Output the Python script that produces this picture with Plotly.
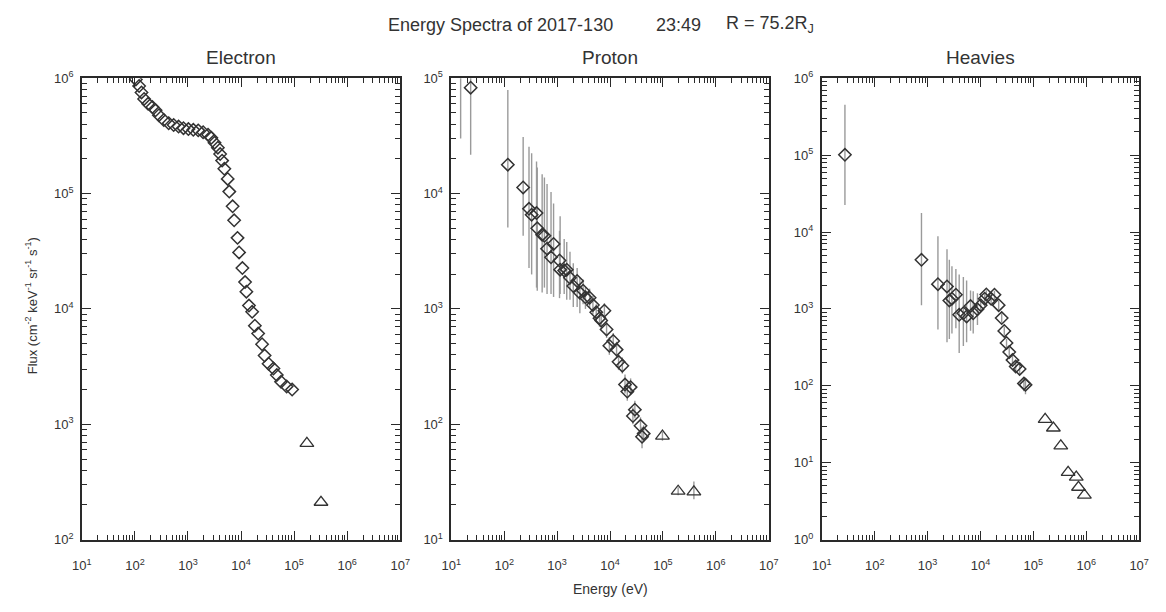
import plotly.graph_objects as go

# ---------------- data ----------------
# Electron (diamonds)
e_energy = [104, 120, 133, 149, 177, 213, 245, 283, 350, 433, 537, 664, 822, 1017, 1259,
            1559, 1929, 2387, 2748, 3162, 3656, 4036, 4395, 4843, 5600, 5998, 6934, 7413,
            8570, 9183, 10600, 11900, 12600, 14100, 16200, 18200, 21000, 24900, 27800,
            33000, 40800, 47200, 56700, 72300, 91800]
e_flux = [9.75e5, 8.56e5, 7.53e5, 6.61e5, 6.0e5, 5.62e5, 5.27e5, 4.78e5, 4.34e5, 4.07e5,
          3.93e5, 3.81e5, 3.69e5, 3.62e5, 3.57e5, 3.53e5, 3.40e5, 3.24e5, 3.04e5, 2.76e5,
          2.50e5, 2.20e5, 1.93e5, 1.64e5, 1.34e5, 1.04e5, 7.75e4, 5.86e4, 4.13e4, 3.09e4,
          2.26e4, 1.71e4, 1.41e4, 1.07e4, 9.44e3, 7.15e3, 6.12e3, 4.94e3, 3.94e3, 3.35e3,
          3.04e3, 2.67e3, 2.34e3, 2.13e3, 2.0e3]
# Electron (triangles)
e_tri_energy = [1.74e5, 3.21e5]
e_tri_flux = [684, 211]

# Proton (diamonds)
p_energy = [15, 23.2, 117, 228, 294, 330, 408, 421, 521, 575, 645, 767, 857, 1110, 1140,
            1360, 1520, 1750, 2020, 2390, 2690, 3100, 3430, 4120, 4750, 5490, 6330, 6810,
            7830, 8610, 9710, 11500, 13300, 14500, 17100, 19200, 21200, 24500, 27100,
            29500, 37700, 40300, 43300]
p_flux = [1.4e5, 8.28e4, 1.78e4, 1.13e4, 7.37e3, 6.56e3, 6.78e3, 5.0e3, 4.4e3, 4.31e3,
          3.33e3, 2.8e3, 3.66e3, 2.63e3, 2.19e3, 2.15e3, 2.19e3, 1.86e3, 1.58e3, 1.75e3,
          1.38e3, 1.44e3, 1.26e3, 1.25e3, 1.08e3, 935, 832, 794, 964, 664, 480, 528, 444,
          348, 322, 221, 192, 210, 118, 134, 97, 78, 83]
p_hi = [6.0e5, 3.16e5, 7.9e4, 3.09e4, 2.54e4, 2.24e4, 1.9e4, 1.68e4, 1.47e4, 1.38e4,
        1.21e4, 1.03e4, 8.2e3, 4.75e3, 6.35e3, 4.04e3, 3.8e3, 3.13e3, 2.49e3, 2.26e3,
        1.86e3, 1.8e3, 1.55e3, 1.5e3, 1.3e3, 1.1e3, 1.0e3, 950, 1.12e3, 790, 570, 620,
        520, 410, 380, 270, 235, 250, 140, 160, 115, 95, 98]
p_lo = [3.0e4, 2.17e4, 5.08e3, 4.31e3, 2.26e3, 1.99e3, 1.53e3, 1.44e3, 1.39e3, 1.53e3,
        1.35e3, 1.35e3, 1.27e3, 1.24e3, 1.35e3, 1.35e3, 1.2e3, 1.2e3, 1.04e3, 1.04e3,
        916, 1.1e3, 1.0e3, 1.02e3, 900, 780, 700, 670, 820, 560, 400, 450, 375, 295,
        275, 185, 160, 180, 100, 113, 82, 62, 70]
# Proton (triangles)
p_tri_energy = [9.8e4, 1.94e5, 3.85e5]
p_tri_flux = [79, 26.3, 26.0]
p_tri_hi = [86, 28.5, 32]
p_tri_lo = [72, 24.3, 22.4]

# Heavies (diamonds)
h_energy = [27.4, 767, 1570, 2330, 2580, 2890, 3430, 3960, 4750, 5470, 6490, 7290, 8770,
            10100, 12000, 12900, 15900, 18400, 22100, 25200, 28200, 31100, 35000, 40300,
            46400, 55000, 66300, 71000]
h_flux = [1.01e5, 4.35e3, 2.10e3, 1.96e3, 1.29e3, 1.36e3, 1.53e3, 838, 879, 798, 1.09e3,
          879, 988, 1.12e3, 1.36e3, 1.54e3, 1.36e3, 1.53e3, 1.12e3, 760, 517, 361, 275,
          216, 178, 166, 107, 103]
h_hi = [4.53e5, 1.77e4, 8.8e3, 5.98e3, 4.35e3, 3.58e3, 3.3e3, 2.81e3, 2.6e3, 2.35e3,
        1.73e3, 1.7e3, 1.6e3, 1.35e3, 1.6e3, 1.75e3, 1.55e3, 1.72e3, 1.28e3, 870, 590,
        410, 315, 245, 205, 190, 125, 120]
h_lo = [2.25e4, 1.12e3, 542, 368, 405, 480, 560, 267, 330, 370, 520, 480, 620, 900,
        1.15e3, 1.33e3, 1.18e3, 1.33e3, 960, 660, 450, 315, 240, 188, 155, 143, 85, 78]
# Heavies (triangles)
h_tri_energy = [1.67e5, 2.39e5, 3.3e5, 4.54e5, 6.47e5, 7.13e5, 9.22e5]
h_tri_flux = [36.7, 28.3, 16.6, 7.5, 6.5, 4.8, 3.8]

x_tickvals = [1e1, 1e2, 1e3, 1e4, 1e5, 1e6, 1e7]
x_ticktext = ["10<sup>1</sup>", "10<sup>2</sup>", "10<sup>3</sup>", "10<sup>4</sup>",
              "10<sup>5</sup>", "10<sup>6</sup>", "10<sup>7</sup>"]
panel_titles = ["Electron", "Proton", "Heavies"]
y_exp_ranges = [(2, 6), (1, 5), (0, 6)]
title_parts = ["Energy Spectra of 2017-130", "23:49", "R = 75.2R<sub>J</sub>"]

# ---------------- styling ----------------
FONT = "Liberation Sans, Arial, Helvetica, sans-serif"
TXT = "#333333"
AX = "#2a2a2a"
MK = "#333333"
EB = "#9a9a9a"

# the page body keeps its default 8px margin; lay out in page pixels minus 8
OFF = 8
W, H = 1166 - 2 * OFF, 612 - 2 * OFF


def fx(px):
    return (px - OFF) / W


def fy(py):
    return 1 - (py - OFF) / H


fig = go.Figure()


def errs(vals, hi, lo):
    return dict(type="data", symmetric=False,
                array=[h - v for h, v in zip(hi, vals)],
                arrayminus=[v - l for v, l in zip(vals, lo)],
                color=EB, thickness=1.4, width=0)


def diamonds(x, y, xa, ya, err=None):
    return go.Scatter(x=x, y=y, xaxis=xa, yaxis=ya, mode="markers",
                      marker=dict(symbol="diamond-open", size=9.5, color=MK,
                                  line=dict(width=1.5, color=MK)),
                      error_y=err, showlegend=False, hoverinfo="x+y")


def triangles(x, y, xa, ya, err=None):
    return go.Scatter(x=x, y=y, xaxis=xa, yaxis=ya, mode="markers",
                      marker=dict(symbol="triangle-up-open", size=12, color=MK,
                                  line=dict(width=1.3, color=MK)),
                      error_y=err, showlegend=False, hoverinfo="x+y")


fig.add_trace(diamonds(p_energy, p_flux, "x2", "y2", errs(p_flux, p_hi, p_lo)))
fig.add_trace(triangles(p_tri_energy, p_tri_flux, "x2", "y2",
                        errs(p_tri_flux, p_tri_hi, p_tri_lo)))
fig.add_trace(diamonds(h_energy, h_flux, "x3", "y3", errs(h_flux, h_hi, h_lo)))
fig.add_trace(triangles(h_tri_energy, h_tri_flux, "x3", "y3"))
fig.add_trace(diamonds(e_energy, e_flux, "x", "y"))
fig.add_trace(triangles(e_tri_energy, e_tri_flux, "x", "y"))

# panel frames in page pixels
x_dom_px = [(73, 397), (449, 772), (826, 1149)]
y_top_px, y_bot_px = 71, 546
y_dom = [fy(y_bot_px), fy(y_top_px)]


def minor_vals(lo, hi):
    return [m * 10 ** k for k in range(lo, hi) for m in range(2, 10)]


layout = dict(width=W, height=H, margin=dict(l=0, r=0, t=0, b=0),
              paper_bgcolor="white", plot_bgcolor="white",
              font=dict(family=FONT, color=TXT, size=12), annotations=[])

for i, ((x0, x1), (ylo, yhi)) in enumerate(zip(x_dom_px, y_exp_ranges)):
    sx = "" if i == 0 else str(i + 1)
    layout["xaxis" + sx] = dict(
        type="log", range=[1, 7], domain=[fx(x0), fx(x1)], anchor="y" + sx,
        tickmode="array", tickvals=x_tickvals, ticktext=x_ticktext,
        ticks="inside", ticklen=9, tickwidth=1.3, tickcolor=AX,
        minor=dict(tickmode="array", tickvals=minor_vals(1, 7), ticks="inside",
                   ticklen=5, tickwidth=1.1, tickcolor=AX, showgrid=False),
        showline=True, linecolor=AX, linewidth=1.6, mirror="allticks",
        showgrid=False, zeroline=False, fixedrange=True,
        tickfont=dict(size=13, color=TXT, family=FONT), ticklabelstandoff=13)
    yt = [10 ** k for k in range(ylo, yhi + 1)]
    layout["yaxis" + sx] = dict(
        type="log", range=[ylo, yhi], domain=y_dom, anchor="x" + sx,
        tickmode="array", tickvals=yt,
        ticktext=["10<sup>%d</sup>" % k for k in range(ylo, yhi + 1)],
        ticks="inside", ticklen=9, tickwidth=1.3, tickcolor=AX,
        minor=dict(tickmode="array", tickvals=minor_vals(ylo, yhi), ticks="inside",
                   ticklen=5, tickwidth=1.1, tickcolor=AX, showgrid=False),
        showline=True, linecolor=AX, linewidth=1.6, mirror="allticks",
        showgrid=False, zeroline=False, fixedrange=True,
        tickfont=dict(size=13, color=TXT, family=FONT), ticklabelstandoff=4)
    layout["annotations"].append(dict(
        text=panel_titles[i], x=fx((x0 + x1) / 2), y=fy(50), xref="paper",
        yref="paper", showarrow=False, xanchor="center", yanchor="middle",
        font=dict(size=19, color=TXT, family=FONT)))

for txt, left in zip(title_parts, [383, 655, 726]):
    layout["annotations"].append(dict(
        text=txt, x=fx(left), y=fy(16), xref="paper", yref="paper", showarrow=False,
        xanchor="left", yanchor="middle", font=dict(size=18, color=TXT, family=FONT)))

layout["annotations"] += [
    dict(text="Energy (eV)", x=fx(611), y=fy(597), xref="paper", yref="paper",
         showarrow=False, xanchor="center", yanchor="middle",
         font=dict(size=14, color=TXT, family=FONT)),
    dict(text="Flux (cm<sup>-2</sup> keV<sup>-1</sup> sr<sup>-1</sup> s<sup>-1</sup>)",
         x=fx(21), y=fy(305), xref="paper", yref="paper", showarrow=False,
         textangle=-90, xanchor="center", yanchor="middle",
         font=dict(size=13, color=TXT, family=FONT)),
]

fig.update_layout(**layout)
fig.write_html("out.html", config={"displayModeBar": False})
